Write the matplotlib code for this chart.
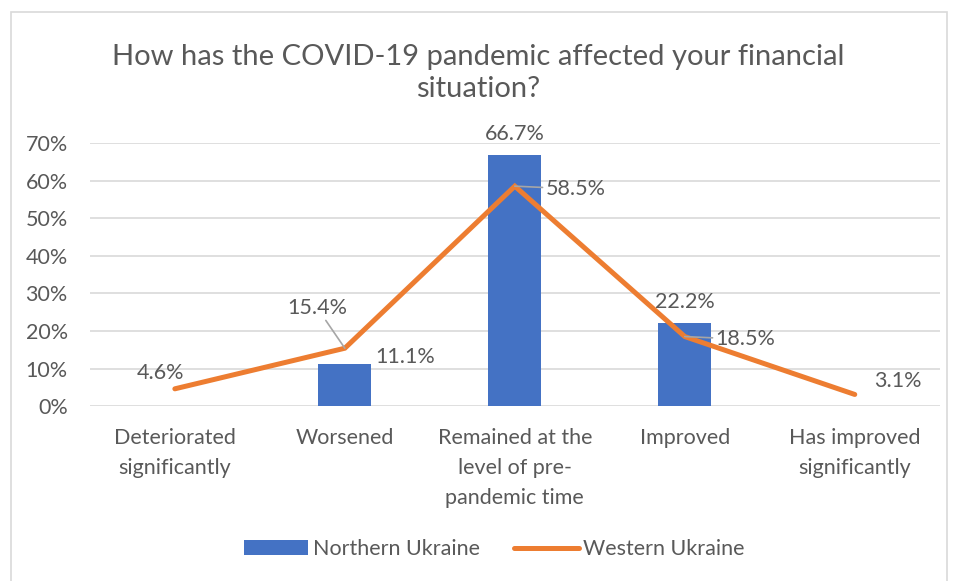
import matplotlib.pyplot as plt
import numpy as np

categories = ["Deteriorated\nsignificantly", "Worsened", "Remained at the\nlevel of pre-\npandemic time",
              "Improved", "Has improved\nsignificantly"]
northern = [0.0, 11.1, 66.7, 22.2, 0.0]
western = [4.6, 15.4, 58.5, 18.5, 3.1]

blue = "#4472C4"
orange = "#ED7D31"
txt = "#595959"
fs = 15.5

plt.rcParams['font.family'] = ['Lato', 'DejaVu Sans']

fig = plt.figure(figsize=(9.56, 5.81), dpi=100)
ax = fig.add_axes([0.094, 0.301, 0.889, 0.453])

x = np.arange(len(categories))
ax.bar(x, northern, width=0.31, color=blue, label="Northern Ukraine", zorder=2)
ax.plot(x, western, color=orange, lw=3.6, solid_capstyle='round', solid_joinstyle='miter',
        label="Western Ukraine", zorder=3)

ax.set_xlim(-0.5, len(categories) - 0.5)
ax.set_ylim(0, 70)
ax.set_yticks(np.arange(0, 71, 10))
ax.set_yticklabels([f"{v}%" for v in range(0, 71, 10)])
ax.set_xticks(x)
ax.set_xticklabels(categories, linespacing=1.6)
ax.tick_params(axis='both', length=0, labelsize=fs, colors=txt)
ax.tick_params(axis='x', pad=16)
ax.tick_params(axis='y', pad=16)
ax.grid(axis='y', color="#D9D9D9", lw=1.2, zorder=0)
for s in ax.spines.values():
    s.set_visible(False)

# bar labels (northern)
nb_off = {1: (22, 5, 'left'), 2: (0, 8, 'center'), 3: (0, 8, 'center')}
for i, (dx, dy, ha) in nb_off.items():
    ax.annotate(f"{northern[i]}%", (x[i], northern[i]), xytext=(dx, dy), textcoords='offset points',
                ha=ha, va='bottom' if ha == 'center' else 'center', fontsize=fs, color=txt)

# line labels (western)
wl = [((-10, 4), 'center', 'bottom', False),
      ((-20, 22), 'center', 'bottom', True),
      ((22, -2), 'left', 'center', True),
      ((22, -2), 'left', 'center', True),
      ((14, 10), 'left', 'center', False)]
for i, ((dx, dy), ha, va, leader) in enumerate(wl):
    ax.annotate(f"{western[i]}%", (x[i], western[i]), xytext=(dx, dy), textcoords='offset points',
                ha=ha, va=va, fontsize=fs, color=txt,
                arrowprops=dict(arrowstyle='-', color='#A6A6A6', lw=1.2, shrinkA=0, shrinkB=0) if leader else None)

fig.text(0.5, 0.874, "How has the COVID-19 pandemic affected your financial\nsituation?",
         ha='center', va='center', fontsize=21, color=txt, linespacing=1.3)

handles, labels = ax.get_legend_handles_labels()
order = [labels.index("Northern Ukraine"), labels.index("Western Ukraine")]
leg = fig.legend([handles[k] for k in order], [labels[k] for k in order],
                 loc='center', bbox_to_anchor=(0.517, 0.055), ncol=2, frameon=False,
                 fontsize=fs, handlelength=3.0, handletextpad=0.2, columnspacing=1.6)
for t in leg.get_texts():
    t.set_color(txt)

# chart border
fig.patches.append(plt.Rectangle((0.011, -0.01), 0.98, 0.99, transform=fig.transFigure,
                                 fill=False, edgecolor='#D9D9D9', lw=1.2))

fig.savefig("out.png", dpi=100)
